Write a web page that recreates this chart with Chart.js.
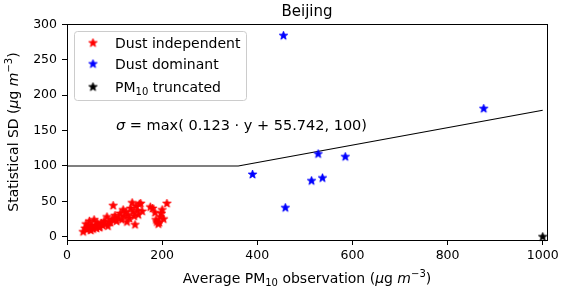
<!DOCTYPE html>
<html>
<head>
<meta charset="utf-8">
<script src="https://cdn.jsdelivr.net/npm/chart.js@4"></script>
<style>
  html, body { margin: 0; padding: 0; background: #fff; }
  #wrap { width: 563px; height: 291px; }
</style>
</head>
<body>
<div id="wrap"><canvas id="scatter-area" width="563" height="291"></canvas></div>
<script>
// data
var redX = [34,38,40,42,45,47,48,50,52,55,57,60,62,63,65,68,69,72,75,78,80,84,86,88,91,95,97,100,101,104,108,112,115,118,120,124,126,128,131,134,137,139,141,143,145,148,150,152,155,158,175,180,185,187,189,192,194,196,198,200,203,210];
var redY = [7,12,18,10,14,22,13,9,16,11,24,15,12,20,17,13,14,19,16,22,18,28,15,21,20,25,44,24,30,22,27,33,24,38,29,35,21,31,26,40,48,35,29,17,43,37,31,46,47,36,42,40,34,24,21,18,20,28,33,38,25,47];
var blueX = [390,455,459,514,528,537,585,876];
var blueY = [88,284,41,79,117,83,113,181];
var blackX = [1000];
var blackY = [0];
// sigma = max(0.123*y + 55.742, 100)
var fitX = [0, 360, 1000];
var fitY = [100, 100, 178.7];
var xTicks = [0, 200, 400, 600, 800, 1000];
var yTicks = [0, 50, 100, 150, 200, 250, 300];

var FONT = "'DejaVu Sans', sans-serif";

function makeStar(color, r) {
  var c = document.createElement('canvas');
  var s = Math.ceil(r * 2 + 2);
  c.width = s; c.height = s;
  var g = c.getContext('2d');
  var cx = s / 2, cy = s / 2, inner = r * 0.42;
  g.beginPath();
  for (var i = 0; i < 10; i++) {
    var rr = i % 2 === 0 ? r : inner;
    var a = -Math.PI / 2 + i * Math.PI / 5;
    var px = cx + rr * Math.cos(a), py = cy + rr * Math.sin(a);
    if (i === 0) g.moveTo(px, py); else g.lineTo(px, py);
  }
  g.closePath();
  g.fillStyle = color;
  g.fill();
  g.lineWidth = 0.8;
  g.strokeStyle = color;
  g.stroke();
  return c;
}

var redStar = makeStar('#ff0000', 4.5);
var blueStar = makeStar('#0000ff', 4.5);
var blackStar = makeStar('#000000', 4.5);

function pts(xs, ys) {
  return xs.map(function(x, i) { return {x: x, y: ys[i]}; });
}

// draw text made of pieces (sub/superscripts, italics)
function drawRich(ctx, segs, x, y, align, rot) {
  ctx.save();
  ctx.translate(x, y);
  if (rot) ctx.rotate(rot);
  var total = 0;
  segs.forEach(function(s) {
    ctx.font = s.f;
    s.w = ctx.measureText(s.t).width;
    total += s.w;
  });
  var cx = align === 'center' ? -total / 2 : 0;
  ctx.fillStyle = '#000';
  ctx.textBaseline = 'alphabetic';
  ctx.textAlign = 'left';
  segs.forEach(function(s) {
    ctx.font = s.f;
    ctx.fillText(s.t, cx, s.dy || 0);
    cx += s.w;
  });
  ctx.restore();
}

function f(size, italic) {
  return (italic ? 'italic ' : '') + size + 'px ' + FONT;
}

var decorations = {
  id: 'decorations',
  afterDatasetsDraw: function(chart) {
    var ctx = chart.ctx, a = chart.chartArea;
    var xs = chart.scales.x, ys = chart.scales.y;
    // box round the plot
    ctx.save();
    ctx.strokeStyle = '#000';
    ctx.lineWidth = 1;
    ctx.strokeRect(Math.round(a.left) + 0.5, Math.round(a.top) + 0.5,
                   Math.round(a.right - a.left), Math.round(a.bottom - a.top));
    ctx.restore();

    // title
    drawRich(ctx, [{t: 'Beijing', f: f(15)}], (a.left + a.right) / 2, 16, 'center');

    // axis titles
    drawRich(ctx, [
      {t: 'Average PM', f: f(14)},
      {t: '10', f: f(10), dy: 3},
      {t: ' observation (', f: f(14)},
      {t: 'μ', f: f(14, true)},
      {t: 'g ', f: f(14)},
      {t: 'm', f: f(14, true)},
      {t: '−3', f: f(10), dy: -6},
      {t: ')', f: f(14)}
    ], (a.left + a.right) / 2, 283, 'center');

    drawRich(ctx, [
      {t: 'Statistical SD (', f: f(14)},
      {t: 'μ', f: f(14, true)},
      {t: 'g ', f: f(14)},
      {t: 'm', f: f(14, true)},
      {t: '−3', f: f(10), dy: -6},
      {t: ')', f: f(14)}
    ], 18, (a.top + a.bottom) / 2, 'center', -Math.PI / 2);

    // formula
    drawRich(ctx, [
      {t: 'σ', f: f(14.5, true)},
      {t: ' = max( 0.123 · y + 55.742, 100)', f: f(14.5)}
    ], xs.getPixelForValue(103), ys.getPixelForValue(151), 'left');

    // legend
    ctx.save();
    ctx.beginPath();
    ctx.roundRect(74.5, 31.5, 172, 69, 3);
    ctx.fillStyle = 'rgba(255,255,255,0.8)';
    ctx.fill();
    ctx.strokeStyle = '#cccccc';
    ctx.lineWidth = 1;
    ctx.stroke();
    ctx.restore();
    var rows = [
      {img: redStar, y: 43, segs: [{t: 'Dust independent', f: f(14)}]},
      {img: blueStar, y: 64, segs: [{t: 'Dust dominant', f: f(14)}]},
      {img: blackStar, y: 87, segs: [{t: 'PM', f: f(14)}, {t: '10', f: f(10), dy: 3}, {t: ' truncated', f: f(14)}]}
    ];
    rows.forEach(function(r) {
      ctx.drawImage(r.img, 93 - r.img.width / 2, r.y - r.img.height / 2);
      drawRich(ctx, r.segs, 115, r.y + 5, 'left');
    });
  }
};

function scatterChart() {
  var ctx = document.getElementById('scatter-area').getContext('2d');
  window.myScatter = new Chart(ctx, {
    type: 'scatter',
    data: {
      datasets: [{
        label: 'Dust independent',
        data: pts(redX, redY),
        pointStyle: redStar,
        clip: false
      }, {
        label: 'Dust dominant',
        data: pts(blueX, blueY),
        pointStyle: blueStar,
        clip: false
      }, {
        label: 'PM10 truncated',
        data: pts(blackX, blackY),
        pointStyle: blackStar,
        clip: false
      }, {
        label: 'fit',
        data: pts(fitX, fitY),
        showLine: true,
        pointRadius: 0,
        borderColor: '#000',
        borderWidth: 1.2,
        fill: false
      }]
    },
    options: {
      responsive: false,
      animation: false,
      events: [],
      layout: { padding: { top: 24, right: 16, left: 0, bottom: 0 } },
      plugins: {
        legend: { display: false },
        tooltip: { enabled: false }
      },
      scales: {
        x: {
          type: 'linear',
          min: 0,
          max: 1009,
          afterBuildTicks: function(s) { s.ticks = xTicks.map(function(v) { return {value: v}; }); },
          afterFit: function(s) { s.height = 51; },
          ticks: { color: '#000', font: { family: FONT, size: 12.5 }, padding: 3, maxRotation: 0,
                   callback: function(v) { return String(v); } },
          grid: { drawOnChartArea: false, tickLength: 5, color: '#000' },
          border: { color: '#000', width: 1 }
        },
        y: {
          type: 'linear',
          min: -4.5,
          max: 300.5,
          afterBuildTicks: function(s) { s.ticks = yTicks.map(function(v) { return {value: v}; }); },
          afterFit: function(s) { s.width = 67; },
          ticks: { color: '#000', font: { family: FONT, size: 12.5 }, padding: 5,
                   callback: function(v) { return String(v); } },
          grid: { drawOnChartArea: false, tickLength: 5, color: '#000' },
          border: { color: '#000', width: 1 }
        }
      }
    },
    plugins: [decorations]
  });
}

scatterChart();
</script>
</body>
</html>
